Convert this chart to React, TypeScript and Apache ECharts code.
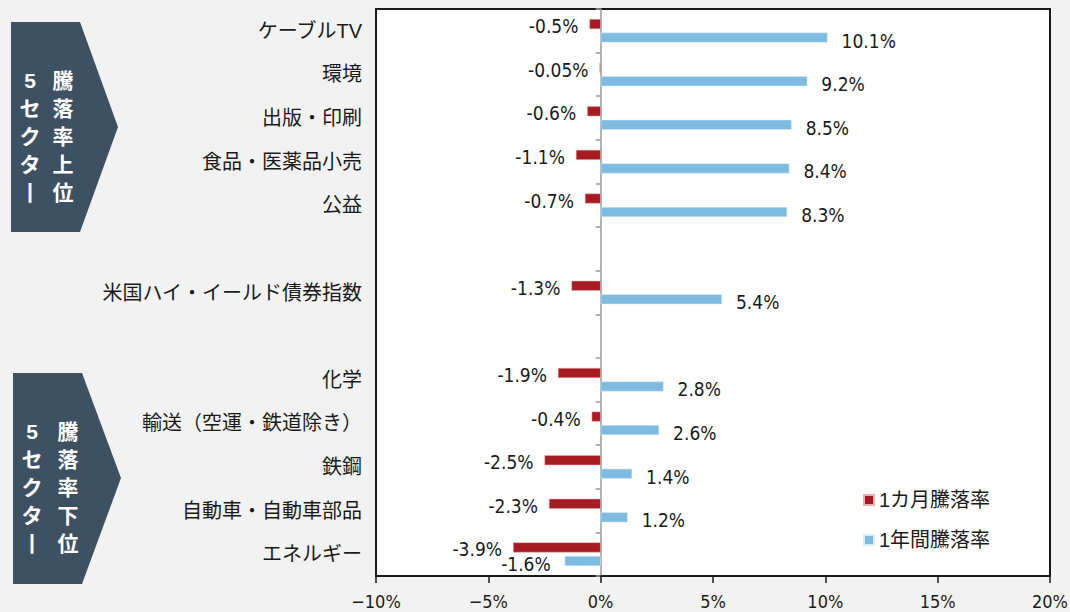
import React, { useEffect, useRef } from "react";
import * as echarts from "echarts";

const categories = [
  "ケーブルTV",
  "環境",
  "出版・印刷",
  "食品・医薬品小売",
  "公益",
  "",
  "米国ハイ・イールド債券指数",
  "",
  "化学",
  "輸送（空運・鉄道除き）",
  "鉄鋼",
  "自動車・自動車部品",
  "エネルギー",
];
const monthly = [-0.5, -0.05, -0.6, -1.1, -0.7, null, -1.3, null, -1.9, -0.4, -2.5, -2.3, -3.9];
const yearly = [10.1, 9.2, 8.5, 8.4, 8.3, null, 5.4, null, 2.8, 2.6, 1.4, 1.2, -1.6];
const seriesNames = ["1カ月騰落率", "1年間騰落率"];
const xTicks = { min: -10, max: 20, interval: 5 };

const RED = "#a61c22";
const BLUE = "#7fbbe1";
const SLATE = "#3e5163";
const NARROW = "'DejaVu Sans Condensed', 'Liberation Sans', sans-serif";
const JP = "'Liberation Sans', 'Noto Sans CJK JP', sans-serif";

export default function App() {
  const ref = useRef<HTMLDivElement>(null);
  useEffect(() => {
    if (!ref.current) return;
    const chart = echarts.init(ref.current, null, { renderer: "svg" });
    const labelFmt = (p: any) => `${p.value}%`;
    const mkData = (arr: (number | null)[], posNeg: string, posPos: string) =>
      arr.map((v) =>
        v == null ? null : { value: v, label: { position: v < 0 ? posNeg : posPos } }
      );
    const txt = (x: number, y: number, text: string) => ({
      type: "text",
      x,
      y,
      style: {
        text,
        fill: "#fff",
        fontSize: 21,
        fontWeight: "bold",
        fontFamily: JP,
        align: "center",
        verticalAlign: "middle",
        lineHeight: 28,
      },
    });
    const option: any = {
      animation: false,
      backgroundColor: "#f2f2f2",
      grid: {
        left: 376,
        right: 20,
        top: 9,
        bottom: 36,
        show: true,
        containLabel: false,
        outerBoundsMode: "none",
        backgroundColor: "#ffffff",
        borderColor: "#1a1a1a",
        borderWidth: 2,
      },
      xAxis: {
        type: "value",
        min: xTicks.min,
        max: xTicks.max,
        interval: xTicks.interval,
        axisLine: { show: true, onZero: false, lineStyle: { color: "#1a1a1a", width: 2 } },
        axisTick: { show: true, length: 7, lineStyle: { color: "#1a1a1a", width: 1.5 } },
        splitLine: { show: false },
        axisLabel: {
          margin: 16,
          fontSize: 18,
          fontFamily: NARROW,
          color: "#1a1a1a",
          formatter: (v: number) => (v < 0 ? `\u2212${Math.abs(v)}%` : `${v}%`),
        },
      },
      yAxis: {
        type: "category",
        inverse: true,
        data: categories,
        axisLine: { show: true, onZero: true, lineStyle: { color: "#9a9a9a", width: 1.5 } },
        axisTick: { show: true, length: 5, lineStyle: { color: "#9a9a9a", width: 1.5 } },
        axisLabel: {
          margin: 14,
          fontSize: 20,
          fontFamily: JP,
          color: "#1a1a1a",
        },
      },
      legend: {
        orient: "vertical",
        left: 863,
        top: 490,
        itemWidth: 10,
        itemHeight: 10,
        itemGap: 20,
        padding: 0,
        icon: "rect",
        textStyle: { fontSize: 20, fontFamily: JP, color: "#1a1a1a" },
        data: seriesNames,
      },
      series: [
        {
          name: seriesNames[0],
          type: "bar",
          barWidth: 10,
          barGap: "35%",
          itemStyle: { color: RED, borderColor: "#e8b0b0", borderWidth: 0.5 },
          data: mkData(monthly, "left", "right"),
          label: {
            show: true,
            distance: 11,
            offset: [0, 2],
            fontSize: 19,
            fontFamily: NARROW,
            color: "#1a1a1a",
            formatter: labelFmt,
          },
        },
        {
          name: seriesNames[1],
          type: "bar",
          barWidth: 10,
          barGap: "35%",
          itemStyle: { color: BLUE, borderColor: "#d8ecf8", borderWidth: 0.5 },
          data: mkData(yearly, "left", "right"),
          label: {
            show: true,
            distance: 14,
            offset: [0, 3],
            fontSize: 19,
            fontFamily: NARROW,
            color: "#1a1a1a",
            formatter: labelFmt,
          },
        },
      ],
      graphic: [
        {
          type: "polygon",
          shape: { points: [[11, 22], [80, 22], [118, 127], [80, 232], [11, 232]] },
          style: { fill: SLATE },
        },
        {
          type: "polygon",
          shape: { points: [[13, 373], [82, 373], [121, 478], [82, 584], [13, 584]] },
          style: { fill: SLATE },
        },
        txt(30, 136, "5\nセ\nク\nタ\n丨"),
        txt(63, 136, "騰\n落\n率\n上\n位"),
        txt(32, 487, "5\nセ\nク\nタ\n丨"),
        txt(68, 487, "騰\n落\n率\n下\n位"),
      ],
    };
    chart.setOption(option);
    return () => chart.dispose();
  }, []);
  return (
    <div
      ref={ref}
      style={{ position: "absolute", left: 0, top: 0, width: 1070, height: 612 }}
    />
  );
}
